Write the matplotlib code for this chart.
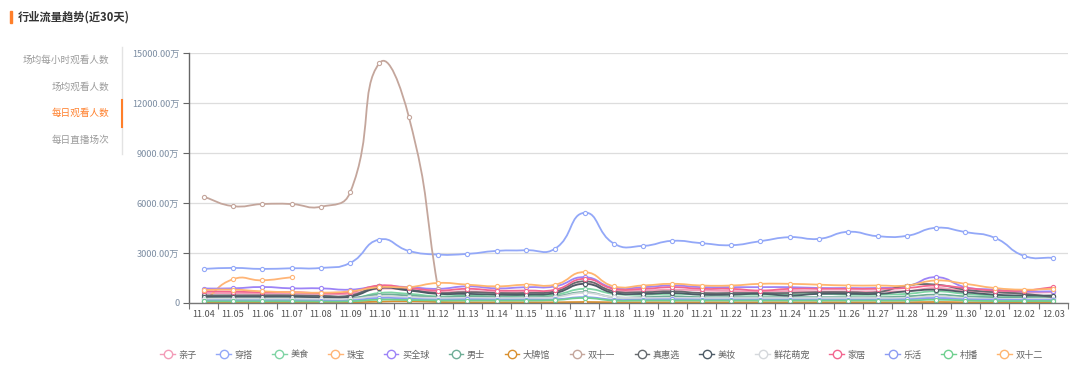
import numpy as np
import matplotlib
matplotlib.use('Agg')
import matplotlib.pyplot as plt
from matplotlib.path import Path
from matplotlib.patches import PathPatch
from matplotlib.lines import Line2D

plt.rcParams['font.family'] = ['Noto Sans CJK SC', 'DejaVu Sans']

dates = ["11.04", "11.05", "11.06", "11.07", "11.08", "11.09", "11.10", "11.11",
         "11.12", "11.13", "11.14", "11.15", "11.16", "11.17", "11.18", "11.19",
         "11.20", "11.21", "11.22", "11.23", "11.24", "11.25", "11.26", "11.27",
         "11.28", "11.29", "11.30", "12.01", "12.02", "12.03"]

names = ["亲子", "穿搭", "美食", "珠宝", "买全球", "男士", "大牌馆", "双十一",
         "真惠选", "美妆", "鲜花萌宠", "家居", "乐活", "村播", "双十二"]

colors = ["#f39cb8", "#93a8f8", "#7fd4a4", "#ffb577", "#9d84f7", "#6fae97",
          "#d9902f", "#c4a69c", "#666a6e", "#4d5b66", "#d5d8dc", "#f2668f",
          "#8d9cf2", "#6fd08f", "#ffb56f"]

N = None
qinzi = [600, 580, 560, 560, 540, 560, 850, 780, 650, 700, 650, 650, 700, 1150, 750,
         750, 800, 750, 720, 700, 720, 700, 700, 700, 720, 900, 720, 650, 620, 650]
chuanda = [2045, 2105, 2045, 2085, 2105, 2406, 3809, 3127, 2907, 2947, 3127, 3167, 3268, 5413, 3568,
           3428, 3729, 3588, 3468, 3709, 3950, 3850, 4271, 4010, 4030, 4511, 4251, 3910, 2827, 2706]
meishi = [220, 220, 220, 220, 200, 220, 600, 550, 400, 450, 400, 450, 500, 850, 550,
          500, 550, 500, 500, 500, 500, 550, 500, 500, 550, 700, 550, 450, 400, 400]
zhubao = [100, 1424, 1363, 1544, N, N, N, N, N, N, N, N, N, N, N,
          N, N, N, N, N, N, N, N, N, N, N, N, N, N, N]
maiquanqiu = [870, 880, 960, 880, 880, 800, 1000, 950, 850, 1000, 880, 950, 1000, 1550, 900,
              950, 1050, 950, 950, 950, 950, 900, 900, 900, 1000, 1550, 950, 800, 700, 700]
nanshi = [300, 300, 300, 300, 280, 300, 500, 450, 350, 400, 350, 350, 400, 650, 350,
          350, 400, 350, 350, 350, 350, 350, 350, 350, 400, 500, 400, 350, 300, 300]
dapaiguan = [30, 30, 30, 30, 30, 40, 80, 100, 60, 40, 40, 40, 40, 60, 40,
             40, 40, 40, 40, 40, 40, 40, 40, 40, 40, 60, 40, 40, 50, 50]
shuang11 = [6375, 5815, 5936, 5936, 5776, 6638, 14395, 11187, 862, N, N, N, N, N, N,
            N, N, N, N, N, N, N, N, N, N, N, N, N, N, N]
zhenhuixuan = [460, 460, 460, 460, 430, 450, 1000, 800, 600, 650, 600, 600, 700, 1300, 700,
               650, 700, 600, 600, 600, 600, 650, 650, 650, 1050, 1100, 800, 650, 550, 350]
meizhuang = [380, 380, 380, 380, 350, 380, 900, 750, 550, 550, 500, 500, 600, 1150, 600,
             550, 600, 500, 500, 550, 450, 550, 550, 550, 700, 800, 650, 500, 450, 450]
xianhua = [250, 260, 260, 260, 240, 250, 400, 350, 300, 300, 300, 300, 350, 600, 350,
           300, 300, 300, 300, 300, 300, 300, 300, 300, 300, 400, 300, 250, 250, 250]
jiaju = [700, 680, 650, 650, 600, 650, 1050, 900, 750, 850, 750, 750, 800, 1450, 850,
         850, 950, 850, 850, 750, 850, 850, 850, 850, 900, 1050, 900, 750, 750, 950]
lehuo = [150, 150, 150, 150, 140, 150, 300, 260, 200, 220, 200, 200, 220, 350, 200,
         200, 220, 200, 200, 200, 200, 200, 200, 200, 220, 300, 220, 200, 180, 180]
cunbo = [100, 100, 100, 100, 90, 100, 200, 180, 150, 150, 150, 150, 180, 300, 150,
         150, 150, 150, 150, 150, 150, 150, 150, 150, 150, 200, 150, 120, 120, 120]
shuang12 = [780, 800, 700, 650, 620, 700, 950, 950, 1200, 1100, 1000, 1100, 1100, 1850, 1000,
            1050, 1150, 1050, 1050, 1150, 1150, 1100, 1050, 1050, 1050, 1350, 1150, 900, 800, 850]

series = [qinzi, chuanda, meishi, zhubao, maiquanqiu, nanshi, dapaiguan, shuang11,
          zhenhuixuan, meizhuang, xianhua, jiaju, lehuo, cunbo, shuang12]

yticks = [0, 3000, 6000, 9000, 12000, 15000]


def smooth_path(xs, ys, sx=29.3, sy=0.01663, smooth=0.5):
    # echarts-like bezier smoothing, distances measured in pixel-ish units
    px = np.array(xs, float) * sx
    py = np.array(ys, float) * sy
    n = len(px)
    verts = [(xs[0], ys[0])]
    codes = [Path.MOVETO]
    cps = []
    for i in range(n):
        prv = max(i - 1, 0)
        nxt = min(i + 1, n - 1)
        vx = (px[nxt] - px[prv]) * smooth
        vy = (py[nxt] - py[prv]) * smooth
        d0 = np.hypot(px[i] - px[prv], py[i] - py[prv])
        d1 = np.hypot(px[nxt] - px[i], py[nxt] - py[i])
        tot = d0 + d1 if d0 + d1 > 0 else 1
        a = (px[i] - vx * d0 / tot, py[i] - vy * d0 / tot)
        b = (px[i] + vx * d1 / tot, py[i] + vy * d1 / tot)
        cps.append((a, b))
    for i in range(n - 1):
        b = cps[i][1]
        a = cps[i + 1][0]
        verts += [(b[0] / sx, b[1] / sy), (a[0] / sx, a[1] / sy), (xs[i + 1], ys[i + 1])]
        codes += [Path.CURVE4] * 3
    return Path(verts, codes)


fig = plt.figure(figsize=(10.8, 3.74), dpi=100)
ax = fig.add_axes([189 / 1080, 71 / 374, 879 / 1080, 250 / 374])

x = np.arange(len(dates))
for vals, c, name in zip(series, colors, names):
    xs = [i for i, v in zip(x, vals) if v is not None]
    ys = [v for v in vals if v is not None]
    ax.add_patch(PathPatch(smooth_path(xs, ys), fill=False, edgecolor=c, lw=1.3,
                           capstyle='round', joinstyle='round'))
    ax.plot(xs, ys, ls='none', marker='o', ms=3.0, mfc='white', mec=c, mew=0.8)

ax.set_xlim(-0.5, len(dates) - 0.5)
ax.set_ylim(0, 15000)
ax.set_xticks(x)
ax.set_xticklabels(dates, fontsize=6.6, color='#555555')
ax.set_xticks(np.arange(-0.5, len(dates), 1.0), minor=True)
ax.tick_params(axis='x', which='major', length=0, pad=5)
ax.tick_params(axis='x', which='minor', length=4, color='#777777', width=0.8)
ax.set_yticks(yticks)
ax.set_yticklabels(["0" if v == 0 else "%.2f万" % v for v in yticks],
                   fontsize=6.6, color='#7d8ea3')
ax.tick_params(axis='y', length=4, color='#666666', width=0.8, pad=3)
ax.grid(axis='y', color='#dddddd', lw=0.9)
ax.set_axisbelow(True)
for s in ['top', 'right']:
    ax.spines[s].set_visible(False)
ax.spines['left'].set_color('#666666')
ax.spines['left'].set_linewidth(1.0)
ax.spines['bottom'].set_color('#777777')
ax.spines['bottom'].set_linewidth(1.0)

# title
fig.patches.append(plt.Rectangle((10 / 1080, 1 - 23 / 374), 2 / 1080, 12 / 374,
                                 transform=fig.transFigure, color='#ff7f2a'))
fig.text(18 / 1080, 1 - 17 / 374, "行业流量趋势(近30天)", fontsize=8.1,
         color='#333333', va='center', ha='left', fontweight='bold')

# side menu
menu = ["场均每小时观看人数", "场均观看人数", "每日观看人数", "每日直播场次"]
menu_y = [60, 87, 113, 140]
for t, yy in zip(menu, menu_y):
    fig.text(109 / 1080, 1 - yy / 374, t, fontsize=6.9, ha='right', va='center',
             color='#ff7f2a' if t == "每日观看人数" else '#9a9a9a')
fig.add_artist(Line2D([121.5 / 1080, 121.5 / 1080], [1 - 47 / 374, 1 - 154 / 374],
                      color='#e3e3e3', lw=1))
fig.add_artist(Line2D([121.5 / 1080, 121.5 / 1080], [1 - 100 / 374, 1 - 127 / 374],
                      color='#ff7f2a', lw=1.5))

handles = [Line2D([], [], color=c, lw=1, marker='o', ms=6, mfc='white', mec=c, mew=1)
           for c in colors]
fig.legend(handles, names, loc='center', bbox_to_anchor=(0.557, 1 - 355 / 374),
           ncol=len(names), frameon=False, fontsize=6.6, handlelength=1.6,
           handletextpad=0.4, columnspacing=2.1, labelcolor='#666666')

plt.savefig("out.png", dpi=100)
